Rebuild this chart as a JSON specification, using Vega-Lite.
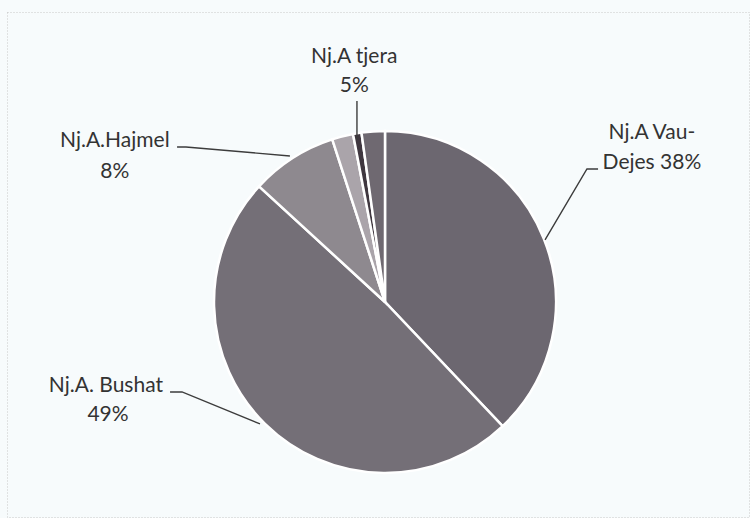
{
  "$schema": "https://vega.github.io/schema/vega-lite/v6.json",
  "autosize": {"type": "fit", "contains": "padding"},
  "width": 750,
  "height": 518,
  "padding": {"top": 12, "left": 7, "right": 1, "bottom": 1},
  "background": "#f7fbfc",
  "config": {"view": {"stroke": "#c8c8c8", "strokeDash": [1, 2], "strokeWidth": 1}},
  "datasets": {
    "slices": [
      {"name": "Nj.A Vau-Dejes", "share": 38, "ord": 1, "cx": 0, "cy": 0},
      {"name": "Nj.A. Bushat", "share": 49, "ord": 2, "cx": 0, "cy": 0},
      {"name": "Nj.A.Hajmel", "share": 8.2, "ord": 3, "cx": 0, "cy": 0},
      {"name": "Nj.A tjera (a)", "share": 2.0, "ord": 4, "cx": 0, "cy": 0},
      {"name": "Nj.A tjera (b)", "share": 0.8, "ord": 5, "cx": 0, "cy": 0},
      {"name": "Nj.A tjera (c)", "share": 2.2, "ord": 6, "cx": 0, "cy": 0}
    ],
    "labels": [
      {"text": "Nj.A tjera", "lx": -0.18, "ly": 1.433},
      {"text": "5%", "lx": -0.18, "ly": 1.263},
      {"text": "Nj.A.Hajmel", "lx": -1.58, "ly": 0.942},
      {"text": "8%", "lx": -1.58, "ly": 0.76},
      {"text": "Nj.A Vau-", "lx": 1.561, "ly": 0.988},
      {"text": "Dejes 38%", "lx": 1.561, "ly": 0.813},
      {"text": "Nj.A. Bushat", "lx": -1.632, "ly": -0.491},
      {"text": "49%", "lx": -1.62, "ly": -0.661}
    ],
    "leaders": [
      {"g": "tjera", "i": 1, "lx": -0.164, "ly": 1.175},
      {"g": "tjera", "i": 2, "lx": -0.164, "ly": 0.947},
      {"g": "hajmel", "i": 1, "lx": -1.216, "ly": 0.906},
      {"g": "hajmel", "i": 2, "lx": -1.164, "ly": 0.906},
      {"g": "hajmel", "i": 3, "lx": -0.556, "ly": 0.854},
      {"g": "vau", "i": 1, "lx": 1.246, "ly": 0.778},
      {"g": "vau", "i": 2, "lx": 1.181, "ly": 0.778},
      {"g": "vau", "i": 3, "lx": 0.936, "ly": 0.363},
      {"g": "bushat", "i": 1, "lx": -1.257, "ly": -0.526},
      {"g": "bushat", "i": 2, "lx": -1.187, "ly": -0.526},
      {"g": "bushat", "i": 3, "lx": -0.731, "ly": -0.713}
    ]
  },
  "layer": [
    {
      "data": {"name": "slices"},
      "mark": {"type": "arc", "radius": 171, "stroke": "#ffffff", "strokeWidth": 2.5},
      "encoding": {
        "x": {"field": "cx", "type": "quantitative", "scale": {"domain": [-2.2105, 2.1287], "nice": false, "zero": false}, "axis": null},
        "y": {"field": "cy", "type": "quantitative", "scale": {"domain": [-1.2573, 1.6959], "nice": false, "zero": false}, "axis": null},
        "theta": {"field": "share", "type": "quantitative", "stack": true},
        "order": {"field": "ord", "type": "quantitative"},
        "color": {
          "field": "name",
          "type": "nominal",
          "legend": null,
          "scale": {
            "domain": ["Nj.A Vau-Dejes", "Nj.A. Bushat", "Nj.A.Hajmel", "Nj.A tjera (a)", "Nj.A tjera (b)", "Nj.A tjera (c)"],
            "range": ["#6c6770", "#746f77", "#8e898f", "#aaa4aa", "#3f373f", "#6f6971"]
          }
        }
      }
    },
    {
      "data": {"name": "leaders"},
      "mark": {"type": "line", "color": "#3c3c3c", "strokeWidth": 1.4},
      "encoding": {
        "x": {"field": "lx", "type": "quantitative"},
        "y": {"field": "ly", "type": "quantitative"},
        "detail": {"field": "g"},
        "order": {"field": "i", "type": "quantitative"}
      }
    },
    {
      "data": {"name": "labels"},
      "mark": {"type": "text", "font": "Lato", "fontSize": 21, "color": "#333333", "align": "center", "baseline": "middle"},
      "encoding": {
        "x": {"field": "lx", "type": "quantitative"},
        "y": {"field": "ly", "type": "quantitative"},
        "text": {"field": "text"}
      }
    }
  ]
}
